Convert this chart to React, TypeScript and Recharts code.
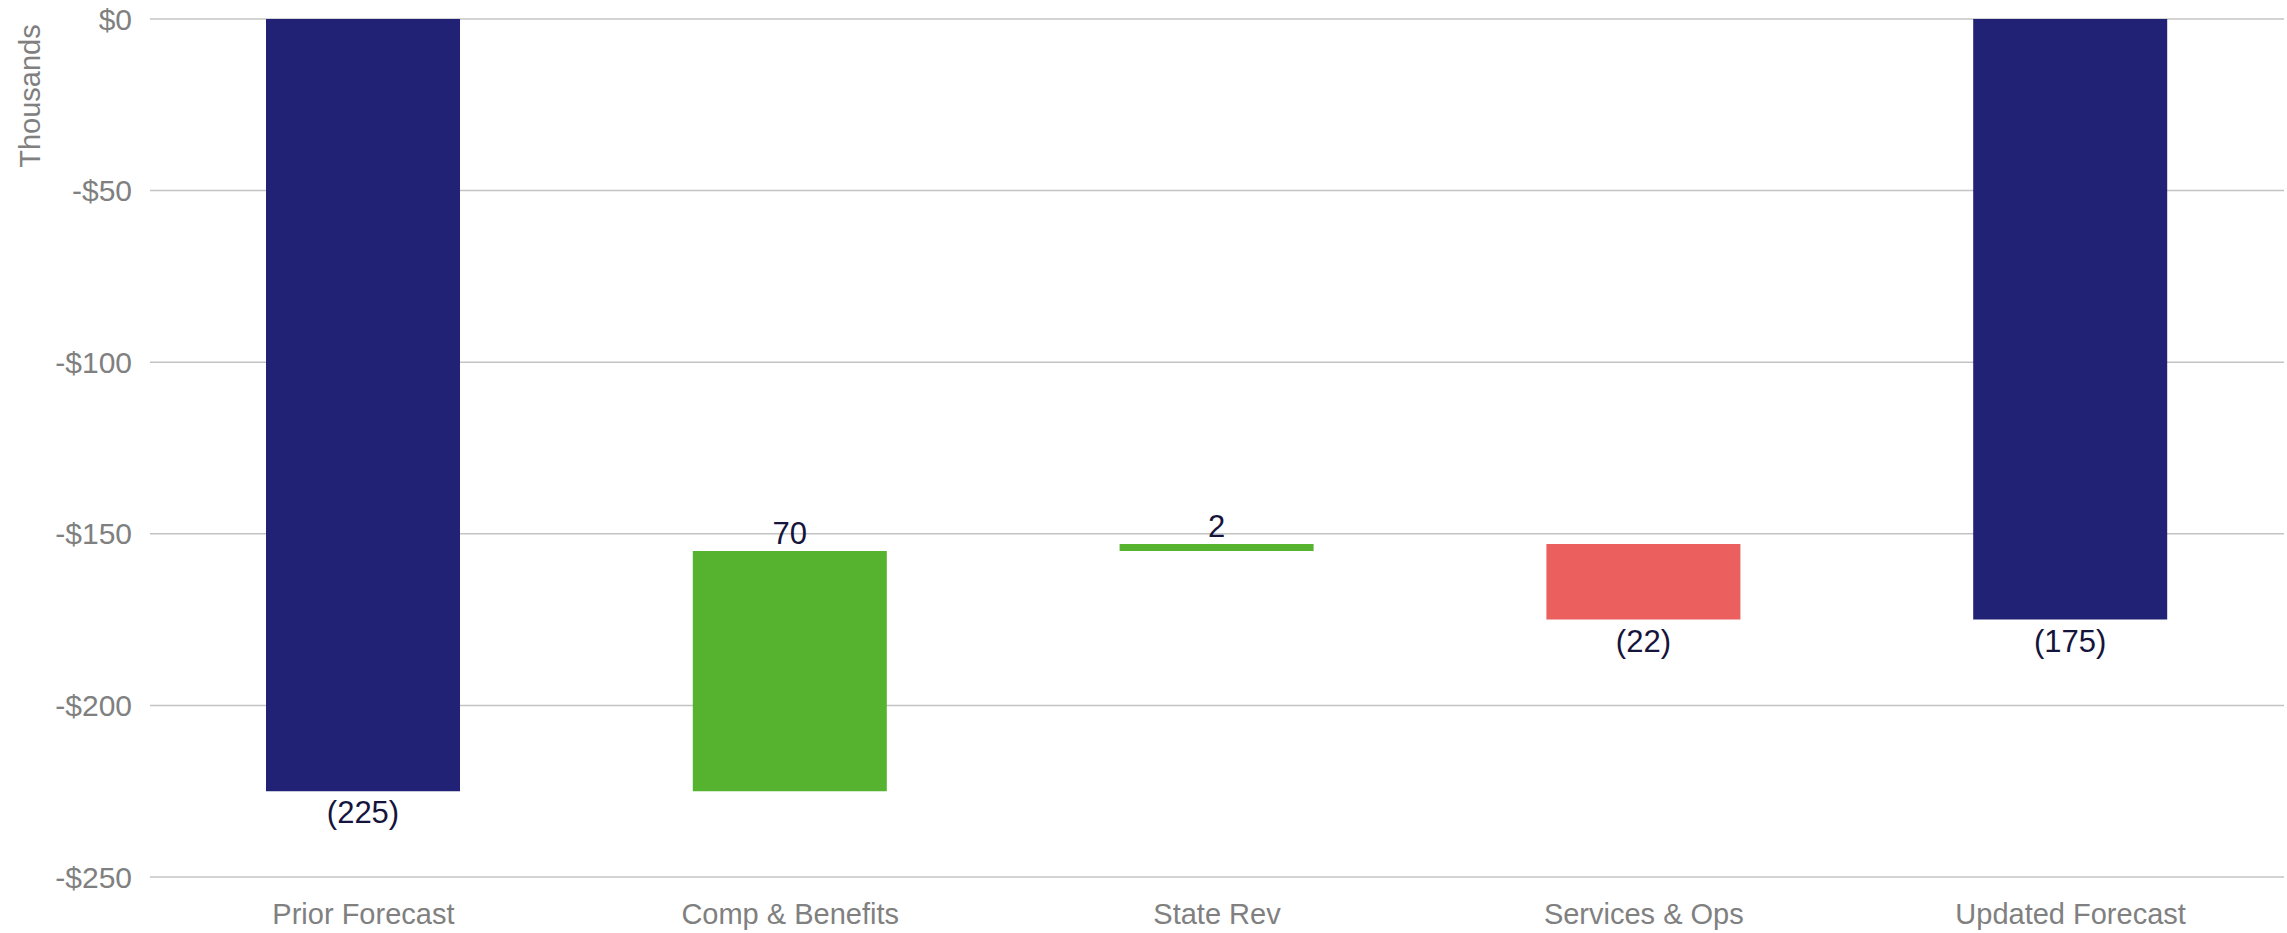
import React from 'react';
import { BarChart, Bar, XAxis, YAxis, CartesianGrid, Cell, LabelList, Label } from 'recharts';

const categories = ['Prior Forecast', 'Comp & Benefits', 'State Rev', 'Services & Ops', 'Updated Forecast'];
const amounts = [-225, 70, 2, -22, -175];
const isTotal = [true, false, false, false, true];
const yTicks = [0, -50, -100, -150, -200, -250];

const NAVY = '#212176';
const GREEN = '#56b330';
const RED = '#eb5f5f';
const GRAY = '#808080';
const LABEL = '#14143c';

// waterfall: totals start at zero, changes start where the last bar ended
let running = 0;
const data = categories.map((name, i) => {
  const start = isTotal[i] ? 0 : running;
  const end = isTotal[i] ? amounts[i] : running + amounts[i];
  running = end;
  return { name, range: [Math.min(start, end), Math.max(start, end)], amount: amounts[i] };
});

const barColor = (i: number) => (isTotal[i] ? NAVY : amounts[i] >= 0 ? GREEN : RED);

const fmtTick = (v: number) => (v === 0 ? '$0' : `-$${Math.abs(v)}`);

const ValueLabel = (props: any) => {
  const { x, y, width, height, index } = props;
  const v = amounts[index];
  const top = Math.min(y, y + height);
  const bottom = Math.max(y, y + height);
  const text = v < 0 ? `(${Math.abs(v)})` : `${v}`;
  const ty = v < 0 ? bottom + 32 : top - 7;
  return (
    <text x={x + width / 2} y={ty} textAnchor="middle" fill={LABEL} fontSize={31}>
      {text}
    </text>
  );
};

export default function App() {
  return (
    <div style={{ position: 'absolute', left: 0, top: 0, fontFamily: '"Liberation Sans", Arial, sans-serif' }}>
      <BarChart width={2287} height={933} data={data} margin={{ top: 19, right: 3, left: 40, bottom: 0 }}>
        <CartesianGrid vertical={false} stroke="#c4c4c4" strokeWidth={1.5} />
        <XAxis
          dataKey="name"
          axisLine={false}
          tickLine={false}
          height={56}
          tickMargin={20}
          tick={{ fill: GRAY, fontSize: 29 }}
        />
        <YAxis
          type="number"
          domain={[-250, 0]}
          ticks={yTicks}
          tickFormatter={fmtTick}
          axisLine={false}
          tickLine={false}
          width={110}
          tickMargin={12}
          tick={{ fill: GRAY, fontSize: 30 }}
        >
          <Label
            content={() => (
              <text
                x={30}
                y={96}
                transform="rotate(-90, 30, 96)"
                textAnchor="middle"
                dominantBaseline="central"
                fill={GRAY}
                fontSize={29}
              >
                Thousands
              </text>
            )}
          />
        </YAxis>
        <Bar dataKey="range" barSize={194} isAnimationActive={false}>
          {data.map((d, i) => (
            <Cell key={d.name} fill={barColor(i)} />
          ))}
          <LabelList dataKey="amount" content={ValueLabel} />
        </Bar>
      </BarChart>
    </div>
  );
}
